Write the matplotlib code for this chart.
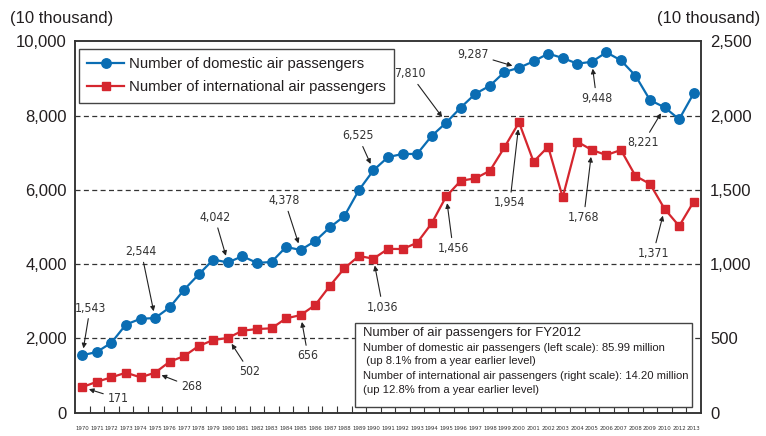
import matplotlib
matplotlib.use("Agg")
import matplotlib.pyplot as plt
import matplotlib.font_manager as fm
from matplotlib.patches import Rectangle
from matplotlib.textpath import TextPath
import numpy as np

plt.rcParams['font.family'] = ['Liberation Sans', 'DejaVu Sans']

# data (10 thousand passengers), fiscal years
year_labels = [str(y) for y in range(1970, 2011)] + ["2012", "2013"]
domestic = [1543, 1630, 1880, 2370, 2525, 2544, 2830, 3310, 3720, 4120,
            4042, 4210, 4030, 4055, 4460, 4378, 4620, 4985, 5290, 5990,
            6525, 6880, 6965, 6965, 7450, 7810, 8216, 8586, 8803, 9173,
            9287, 9460, 9668, 9551, 9397, 9448, 9703, 9486, 9073, 8414,
            8221, 7900, 8599]
international = [171, 207, 237, 268, 237, 268, 342, 380, 448, 488,
                 502, 551, 562, 567, 634, 656, 724, 852, 971, 1054,
                 1036, 1102, 1101, 1143, 1274, 1456, 1561, 1577, 1628, 1786,
                 1954, 1689, 1790, 1449, 1824, 1768, 1734, 1768, 1593, 1539,
                 1371, 1256, 1420]
left_ticks = [0, 2000, 4000, 6000, 8000, 10000]
right_ticks = [0, 500, 1000, 1500, 2000, 2500]

# labelled points: index -> text offset in points
dom_notes = {0: (5.6, 34), 5: (-9.9, 47.8), 10: (-9.5, 32.5), 15: (-11.5, 35.5),
             20: (-11.1, 24.7), 25: (-26, 35), 30: (-33, 9.9), 35: (3.4, -26.3),
             40: (-15.4, -25.5)}
int_notes = {0: (25.6, -8.1), 5: (26.1, -10.1), 10: (15.7, -24.3), 15: (5.3, -29.4),
             20: (6.7, -34.8), 25: (4.9, -37.4), 30: (-6.6, -57.9), 35: (-5.8, -48.5),
             40: (-8.2, -32)}

BLUE = '#0a6db3'
RED = '#d5262e'
TXT = '#231f20'


def find_narrow():
    # look for an installed condensed sans face
    for f in fm.fontManager.ttflist:
        w = f.weight if isinstance(f.weight, int) else {'normal': 400, 'regular': 400}.get(str(f.weight).lower(), 0)
        cond = ('Narrow' in f.name or 'Condensed' in f.name or
                str(f.stretch).endswith('condensed'))
        if cond and w == 400 and f.style == 'normal' and 'Mono' not in f.name:
            return fm.FontProperties(fname=f.fname)
    return None


narrow = find_narrow()
if narrow is not None:
    year_font = narrow.copy()
    note_font = narrow.copy(); note_font.set_size(8.8)
else:
    year_font = fm.FontProperties(family='Liberation Sans')
    note_font = fm.FontProperties(family='Liberation Sans', size=8.2)

# shrink the year labels until one fits in the slot between two points (~13 px)
year_font.set_size(10)
w10 = TextPath((0, 0), "2008", prop=year_font).get_extents().width  # points at size 10
year_font.set_size(min(5.6, 10 * (13.0 * 0.72) / w10))

W, H = 766, 436
fig = plt.figure(figsize=(W / 100, H / 100), dpi=100)


def px(x, y):
    return x / W, 1 - y / H


ax = fig.add_axes([75 / W, 1 - 412.5 / H, (701 - 75) / W, (412.5 - 41.3) / H])
ax2 = ax.twinx()

x = np.arange(len(domestic))
for yv in left_ticks[1:-1]:
    ax.axhline(yv, color='#333333', lw=0.9, ls=(0, (4, 2.7)), zorder=1)

l1, = ax.plot(x, domestic, color=BLUE, lw=1.6, marker='o', ms=6.8, zorder=3)
l2, = ax2.plot(x, international, color=RED, lw=1.6, marker='s', ms=6.2, zorder=3)

ax.set_xlim(-0.5, len(domestic) - 0.5)
ax.set_ylim(0, 10000)
ax2.set_ylim(0, 2500)
ax.set_yticks(left_ticks)
ax.set_yticklabels([f"{v:,}" for v in left_ticks])
ax2.set_yticks(right_ticks)
ax2.set_yticklabels([f"{v:,}" for v in right_ticks])
ax.tick_params(axis='y', length=0, pad=6, labelsize=12, labelcolor=TXT)
ax2.tick_params(axis='y', length=0, pad=6.5, labelsize=12, labelcolor=TXT)

ax.set_xticks(x)
ax.set_xticklabels(year_labels, fontproperties=year_font, color='#333333')
ax.set_xticks(x[:-1] + 0.5, minor=True)
ax.tick_params(axis='x', which='major', length=0, pad=9.7)
ax.tick_params(axis='x', which='minor', direction='in', length=5, width=0.8, color='#333333')

for a in (ax, ax2):
    for s in a.spines.values():
        s.set_color('#333333')
        s.set_linewidth(1.1)

for a, vals, notes in ((ax, domestic, dom_notes), (ax2, international, int_notes)):
    for i, off in notes.items():
        a.annotate(f"{vals[i]:,}", xy=(x[i], vals[i]), xytext=off,
                   textcoords='offset points', ha='center', va='center',
                   fontproperties=note_font, color='#333333', zorder=5,
                   arrowprops=dict(arrowstyle='-|>', color='#222222', lw=0.8,
                                   mutation_scale=7, shrinkA=1, shrinkB=5))

fig.text(*px(10, 18), "(10 thousand)", fontsize=12, color=TXT, ha='left', va='center')
fig.text(*px(760, 18), "(10 thousand)", fontsize=12, color=TXT, ha='right', va='center')

leg = fig.legend([l1, l2], ["Number of domestic air passengers",
                            "Number of international air passengers"],
                 loc='upper left', bbox_to_anchor=px(79, 49), borderaxespad=0,
                 fontsize=10.7, frameon=True, fancybox=False, framealpha=1,
                 edgecolor='#444444', borderpad=0.55, labelspacing=0.62,
                 handlelength=2.5, handletextpad=0.3)
leg.get_frame().set_linewidth(1.0)
for t in leg.get_texts():
    t.set_color(TXT)

# summary box
bx0, by0 = px(355, 407)
bx1, by1 = px(692, 323)
fig.add_artist(Rectangle((bx0, by0), bx1 - bx0, by1 - by0, transform=fig.transFigure,
                         facecolor='white', edgecolor='#444444', lw=1.0, zorder=2))
box_lines = [("Number of air passengers for FY2012", 332.7, 9.4),
             ("Number of domestic air passengers (left scale): 85.99 million", 348.3, 8.1),
             (" (up 8.1% from a year earlier level)", 360.5, 8.1),
             ("Number of international air passengers (right scale): 14.20 million", 376, 8.1),
             ("(up 12.8% from a year earlier level)", 389.5, 8.1)]
for txt, yy, fs in box_lines:
    fig.text(*px(362.7, yy), txt, fontsize=fs, color=TXT, ha='left', va='center', zorder=3)

fig.savefig("out.png", dpi=100)
